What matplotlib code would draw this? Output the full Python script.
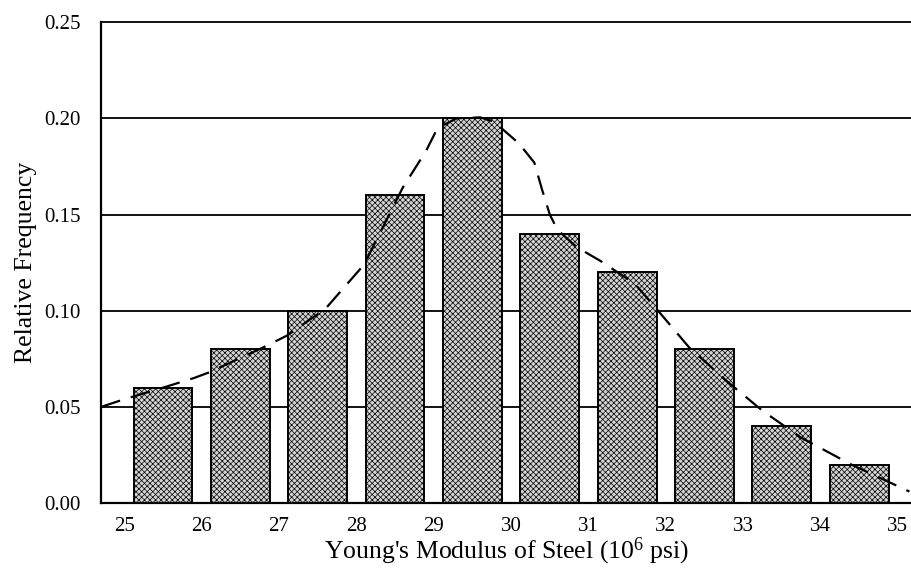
import matplotlib
matplotlib.use("Agg")
import matplotlib.pyplot as plt
import numpy as np

# Histogram of Young's modulus values (bins 25-26 ... 34-35)
bin_edges = [25, 26, 27, 28, 29, 30, 31, 32, 33, 34, 35]
rel_freq = [0.06, 0.08, 0.10, 0.16, 0.20, 0.14, 0.12, 0.08, 0.04, 0.02]

# Dashed smooth curve
curve_x = [24.7, 25.0, 25.5, 25.9, 26.1, 26.8, 27.1, 27.6, 28.1, 28.6, 28.9,
           29.05, 29.3, 29.6, 29.8, 29.9, 30.1, 30.3, 30.4, 30.5, 30.6, 30.85,
           31.15, 31.6, 31.9, 32.3, 32.8, 33.25, 33.75, 34.4, 35.15]
curve_y = [0.050, 0.054, 0.060, 0.065, 0.068, 0.081, 0.087, 0.101, 0.124, 0.164, 0.183,
           0.195, 0.200, 0.2005, 0.198, 0.194, 0.187, 0.177, 0.163, 0.150, 0.142, 0.133,
           0.126, 0.114, 0.100, 0.081, 0.063, 0.048, 0.034, 0.020, 0.006]

y_ticks = [0.00, 0.05, 0.10, 0.15, 0.20, 0.25]

plt.rcParams['font.family'] = ['Liberation Serif', 'DejaVu Serif']
plt.rcParams['mathtext.fontset'] = 'custom'
plt.rcParams['mathtext.rm'] = 'Liberation Serif'
plt.rcParams['mathtext.it'] = 'Liberation Serif:italic'
plt.rcParams['hatch.linewidth'] = 0.5
plt.rcParams['hatch.color'] = '#555555'

fig = plt.figure(figsize=(9.11, 5.73), dpi=100)
ax = fig.add_axes([0.111, 0.122, 0.889, 0.8394])

# Horizontal grid lines behind the bars
for yv in y_ticks[1:]:
    ax.axhline(yv, color='black', linewidth=1.3, zorder=1, clip_on=False)

centers = [(a + b) / 2 for a, b in zip(bin_edges[:-1], bin_edges[1:])]
ax.bar(centers, rel_freq, width=0.76, facecolor='#d4d4d4', edgecolor='black',
       linewidth=1.4, hatch='xxxxxx', zorder=2)

ax.plot(curve_x, curve_y, color='black', linewidth=1.6, dashes=(9, 5), zorder=3,
        clip_on=False)

ax.set_xlim(24.7, 35.17)
ax.set_ylim(0, 0.25)
ax.set_xticks(bin_edges)
ax.set_yticks(y_ticks)
ax.set_yticklabels([f"{v:.2f}" for v in y_ticks])
ax.tick_params(axis='both', length=0, labelsize=15)
ax.tick_params(axis='x', pad=10)
ax.tick_params(axis='y', pad=15)

for side in ['top', 'right']:
    ax.spines[side].set_visible(False)
ax.spines['left'].set_linewidth(1.6)
ax.spines['bottom'].set_linewidth(1.6)

ax.set_xlabel("Young's Modulus of Steel (10$^\\mathrm{6}$ psi)", fontsize=18.5, labelpad=0)
ax.set_ylabel("Relative Frequency", fontsize=18.5, labelpad=5)

fig.savefig("out.png", dpi=100)
